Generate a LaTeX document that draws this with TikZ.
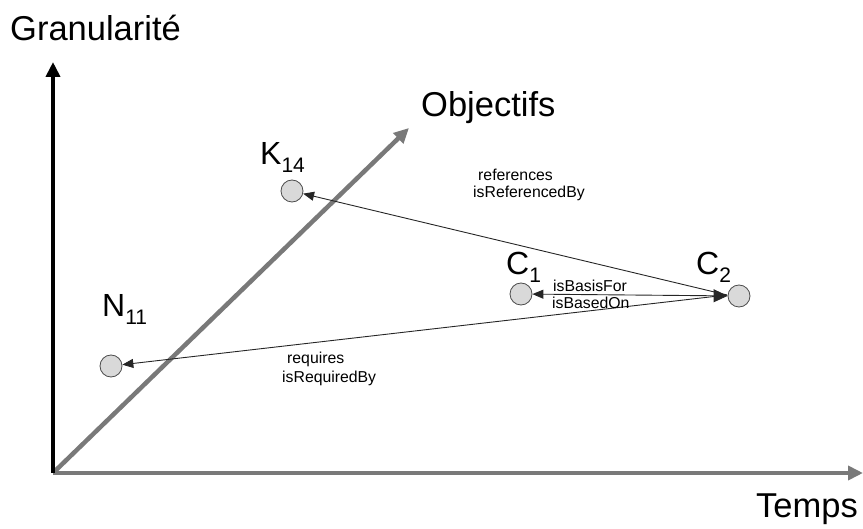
\documentclass[tikz,border=0pt]{standalone}
\usepackage{fontspec}
\setmainfont{Liberation Sans}
\usetikzlibrary{arrows.meta}
\begin{document}
\begin{tikzpicture}[x=1pt,y=-1pt,
  axisblack/.style={draw=black,line width=4.5pt,-{Triangle[length=15pt,width=14pt]}},
  axisgray/.style={draw=gray!95!black,line width=4.5pt,-{Triangle[length=15pt,width=14pt]}},
  concept/.style={circle,draw=black!70,fill=black!15,line width=0.8pt,minimum size=22pt,inner sep=0pt},
  big/.style={font=\fontsize{34.5}{36}\selectfont,inner sep=0pt,anchor=base west},
  small/.style={font=\fontsize{15.8}{17}\selectfont,inner sep=0pt,anchor=base west},
  rel/.style={draw=black!85,line width=0.9pt},
  tip/.style={-{Triangle[length=11pt,width=9pt]}}
]
\useasboundingbox (0,0) rectangle (863,529);
\coordinate (O) at (53,473);
\coordinate (Ytop) at (53,62);
\coordinate (Xend) at (863,473);
\coordinate (Dend) at (409,128);
\draw[axisgray] (O) -- (Xend);
\draw[axisgray] (O) -- (Dend);
\draw[axisblack] (O) -- (Ytop);

\node[big] (lgran) at (10,41) {Granularité};
\node[big] (lobj) at (421,117) {Objectifs};
\node[big] (ltemps) at (756,518) {Temps};

\node[concept] (K14) at (292,191) {};
\node[concept] (C1) at (521,294) {};
\node[concept] (C2) at (739,296) {};
\node[concept] (N11) at (111,366) {};

\newcommand{\lbl}[2]{{\fontsize{32}{34}\selectfont #1}\raisebox{-8pt}{\fontsize{21}{23}\selectfont #2}}
\node[inner sep=0pt,anchor=base west] (lK) at (260,165) {\lbl{K}{14}};
\node[inner sep=0pt,anchor=base west] (lC1) at (506,275) {\lbl{C}{1}};
\node[inner sep=0pt,anchor=base west] (lC2) at (696,275) {\lbl{C}{2}};
\node[inner sep=0pt,anchor=base west] (lN) at (102,317) {\lbl{N}{11}};

\coordinate (hub) at (727,295);
\draw[rel,tip] (hub) -- (K14);
\draw[rel,tip] (hub) -- (N11);
\draw[rel,{Triangle[length=11pt,width=9pt]}-{Triangle[length=14pt,width=13pt]}] (C1) -- (C2);

\node[small] (t1) at (478,181) {references};
\node[small] (t2) at (473,198) {isReferencedBy};
\node[small] (t3) at (553,292) {isBasisFor};
\node[small] (t4) at (552,309) {isBasedOn};
\node[small] (t5) at (287,364) {requires};
\node[small] (t6) at (282,383) {isRequiredBy};
\end{tikzpicture}
\end{document}
